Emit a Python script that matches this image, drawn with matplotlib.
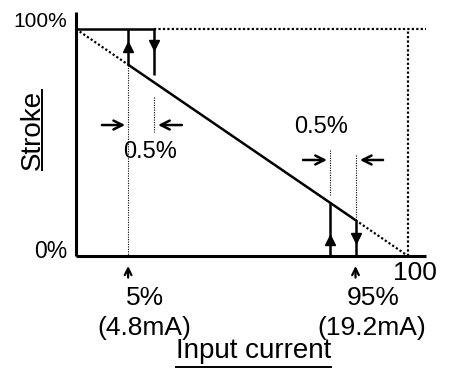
import matplotlib
matplotlib.use("Agg")
import matplotlib.pyplot as plt
from matplotlib.lines import Line2D

plt.rcParams["font.family"] = ["Liberation Sans", "DejaVu Sans"]

# ideal characteristic: stroke falls linearly from 100% to 0% over the input range
ideal_x = [0, 100]
ideal_y = [100, 0]

# hysteresis switch points (schematic positions on the 0..100 axis)
up_x = [15.7, 76.5]      # rising input switch points
down_x = [23.5, 84.2]    # falling input switch points
top_y = 100
bottom_y = 0

tick_pct = ["5%", "95%"]
tick_ma = ["(4.8mA)", "(19.2mA)"]
tick_x = [15.7, 84.2]
band_label = "0.5%"


def diag(x):
    return ideal_y[0] + (ideal_y[1] - ideal_y[0]) * (x - ideal_x[0]) / (ideal_x[1] - ideal_x[0])


fig = plt.figure(figsize=(4.54, 3.71), dpi=100)
ax = fig.add_axes([0, 0, 1, 1])
ax.set_xlim(-22.89, 113.86)
ax.set_ylim(-50.66, 112.78)
ax.axis("off")

k = dict(color="black", solid_capstyle="butt")
thick_dot = dict(color="black", lw=1.6, linestyle=(0, (1, 1)))
thin_dot = dict(color="black", lw=0.8, linestyle=(0, (1, 1.2)))

# axes frame
ax.plot([0, 0], [0, 107.5], lw=2.2, **k)
ax.plot([0, 105.4], [0, 0], lw=2.2, **k)

# dotted guides
ax.plot([down_x[0], 105.4], [top_y, top_y], **thick_dot)
ax.plot([100, 100], [0, 100], **thick_dot)
ax.plot([0, up_x[0]], [diag(0), diag(up_x[0])], **thick_dot)
ax.plot([down_x[1], 100], [diag(down_x[1]), diag(100)], **thick_dot)

# solid characteristic with hysteresis
ax.plot([0, down_x[0]], [top_y, top_y], lw=1.8, **k)
ax.plot([up_x[0], down_x[1]], [diag(up_x[0]), diag(down_x[1])], lw=1.8, **k)
ax.plot([up_x[0], up_x[0]], [diag(up_x[0]), top_y], lw=1.8, **k)
ax.plot([down_x[0], down_x[0]], [top_y, 79.7], lw=1.8, **k)
ax.plot([up_x[1], up_x[1]], [diag(up_x[1]), bottom_y], lw=1.8, **k)
ax.plot([down_x[1], down_x[1]], [diag(down_x[1]), bottom_y], lw=1.8, **k)

# direction arrowheads
ax.plot([up_x[0]], [92], marker="^", ms=7, color="black")
ax.plot([down_x[0]], [93], marker="v", ms=7, color="black")
ax.plot([up_x[1]], [7], marker="^", ms=7, color="black")
ax.plot([down_x[1]], [8], marker="v", ms=7, color="black")

# thin dotted projection lines
ax.plot([up_x[0], up_x[0], up_x[0], up_x[0]], [diag(up_x[0]), 54.6, 32.6, 0], **thin_dot)
ax.plot([down_x[0], down_x[0]], [70, 54.6], **thin_dot)
ax.plot([up_x[1], up_x[1]], [46.7, 26.9], **thin_dot)
ax.plot([down_x[1], down_x[1]], [44.5, diag(down_x[1])], **thin_dot)

# 0.5% band arrows
arr = dict(arrowstyle="->", color="black", lw=1.8, mutation_scale=16, shrinkA=0, shrinkB=0)
ax.annotate("", xy=(14.8, 57.7), xytext=(7.8, 57.7), arrowprops=arr)
ax.annotate("", xy=(24.7, 57.7), xytext=(31.9, 57.7), arrowprops=arr)
ax.annotate("", xy=(75.6, 42.3), xytext=(68.4, 42.3), arrowprops=arr)
ax.annotate("", xy=(85.5, 42.3), xytext=(92.5, 42.3), arrowprops=arr)
ax.text(22.3, 43.2, band_label, fontsize=17, ha="center", va="baseline")
ax.text(73.8, 54.2, band_label, fontsize=17, ha="center", va="baseline")

# tick arrows and labels below the axis
arr2 = dict(arrowstyle="->", color="black", lw=1.6, mutation_scale=12, shrinkA=0, shrinkB=0)
for xv, pct, ma in zip(tick_x, tick_pct, tick_ma):
    ax.annotate("", xy=(xv, -4.4), xytext=(xv, -9.5), arrowprops=arr2)
    ax.text(xv + 5.2, -21.6, pct, fontsize=19, ha="center", va="baseline")
    ax.text(xv + 5.0, -34.8, ma, fontsize=19, ha="center", va="baseline")

ax.text(-2.7, 100.9, "100%", fontsize=15, ha="right", va="baseline")
ax.text(-2.7, -0.9, "0%", fontsize=16.5, ha="right", va="baseline")
ax.text(102.1, -10.6, "100", fontsize=19, ha="center", va="baseline")

t_y = ax.text(-10.8, 55.5, "Stroke", fontsize=20, ha="center", va="baseline",
              rotation=90, rotation_mode="anchor")
t_x = ax.text(53.5, -44.9, "Input current", fontsize=20, ha="center", va="baseline")

# underline the axis titles
fig.canvas.draw()
r = fig.canvas.get_renderer()
W, H = fig.bbox.width, fig.bbox.height
bx, _ = ax.transData.transform((-10.8, 55.5))
bb = t_y.get_window_extent(r)
fig.add_artist(Line2D([(bx + 2) / W] * 2, [bb.y0 / H, bb.y1 / H], color="black", lw=1.4))
_, by = ax.transData.transform((53.5, -44.9))
bb = t_x.get_window_extent(r)
fig.add_artist(Line2D([bb.x0 / W, bb.x1 / W], [(by - 9) / H] * 2, color="black", lw=1.4))

fig.savefig("out.png", dpi=100)
